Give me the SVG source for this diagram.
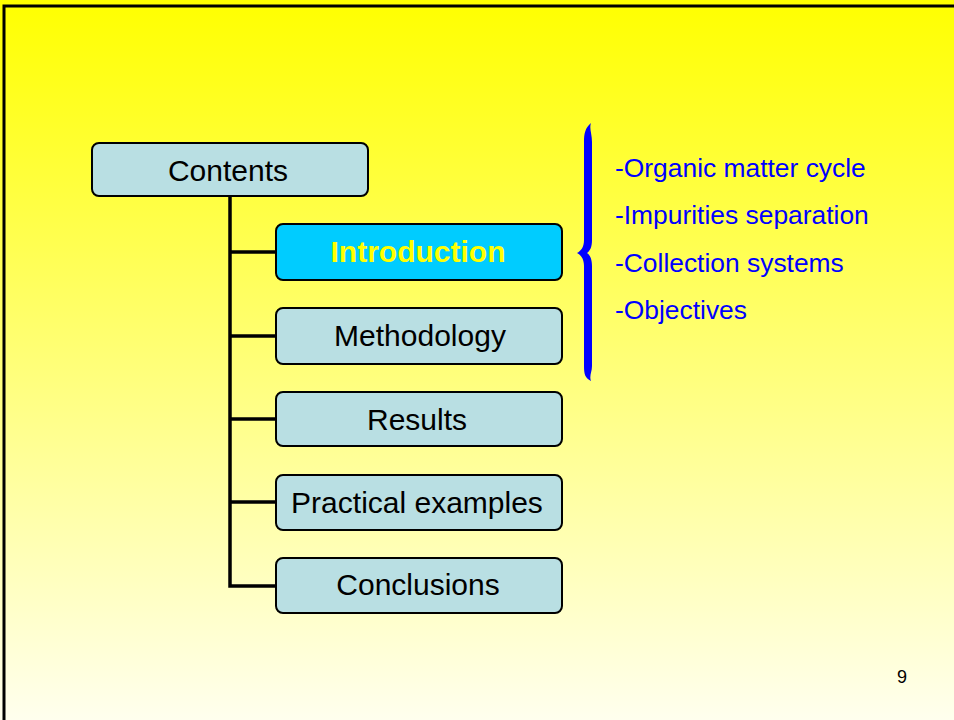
<svg xmlns="http://www.w3.org/2000/svg" width="954" height="720" viewBox="0 0 954 720">
<defs>
<linearGradient id="bg" x1="0" y1="0" x2="0" y2="1">
<stop offset="0" stop-color="#FFFF00"/>
<stop offset="1" stop-color="#FFFFEE"/>
</linearGradient>
<style>
.box{fill:#B9DFE3;stroke:#000;stroke-width:2}
.hi{fill:#00CCFF;stroke:#000;stroke-width:2}
.lbl{font-family:"Liberation Sans",Arial,sans-serif;font-size:30px;fill:#000;text-anchor:middle}
.hil{font-family:"Liberation Sans",Arial,sans-serif;font-size:30px;font-weight:bold;fill:#FFFF00;text-anchor:middle}
.item{font-family:"Liberation Sans",Arial,sans-serif;font-size:26.4px;fill:#0000FF}
.conn{stroke:#000;stroke-width:3.5;fill:none}
</style>
</defs>
<rect x="0" y="0" width="954" height="720" fill="url(#bg)"/>
<path d="M4 720 V6 H954" fill="none" stroke="#000" stroke-width="3"/>
<g id="connectors">
<path class="conn" d="M230 196 V586 H276"/>
<path class="conn" d="M230 252 H276"/>
<path class="conn" d="M230 336 H276"/>
<path class="conn" d="M230 419 H276"/>
<path class="conn" d="M230 502 H276"/>
</g>
<g id="contents"><rect class="box" x="92" y="143" width="276" height="53" rx="7"/><text class="lbl" x="228" y="181">Contents</text></g>
<g id="introduction"><rect class="hi" x="276" y="224" width="286" height="56" rx="7"/><text class="hil" x="418" y="262">Introduction</text></g>
<g id="methodology"><rect class="box" x="276" y="308" width="286" height="56" rx="7"/><text class="lbl" x="420" y="346">Methodology</text></g>
<g id="results"><rect class="box" x="276" y="392" width="286" height="54" rx="7"/><text class="lbl" x="417" y="430">Results</text></g>
<g id="practical"><rect class="box" x="276" y="475" width="286" height="55" rx="7"/><text class="lbl" x="417" y="513">Practical examples</text></g>
<g id="conclusions"><rect class="box" x="276" y="558" width="286" height="55" rx="7"/><text class="lbl" x="418" y="595">Conclusions</text></g>
<g id="brace">
<path d="M591 123 C585 128 584 134 584 142 V240 C584 247 581 251 577 253 C581 255 584 259 584 266 V366 C584 374 585 378 591 381 C589 376 592 372 592 366 V266 C592 259 590 255 587 253 C590 251 592 247 592 240 V142 C592 134 589 128 591 123 Z" fill="#0000FF"/>
</g>
<g id="items">
<text class="item" x="615" y="177">-Organic matter cycle</text>
<text class="item" x="615" y="224">-Impurities separation</text>
<text class="item" x="615" y="272">-Collection systems</text>
<text class="item" x="615" y="319">-Objectives</text>
</g>
<text x="902" y="683" font-family="Liberation Sans, Arial, sans-serif" font-size="18" text-anchor="middle" fill="#000">9</text>
</svg>
